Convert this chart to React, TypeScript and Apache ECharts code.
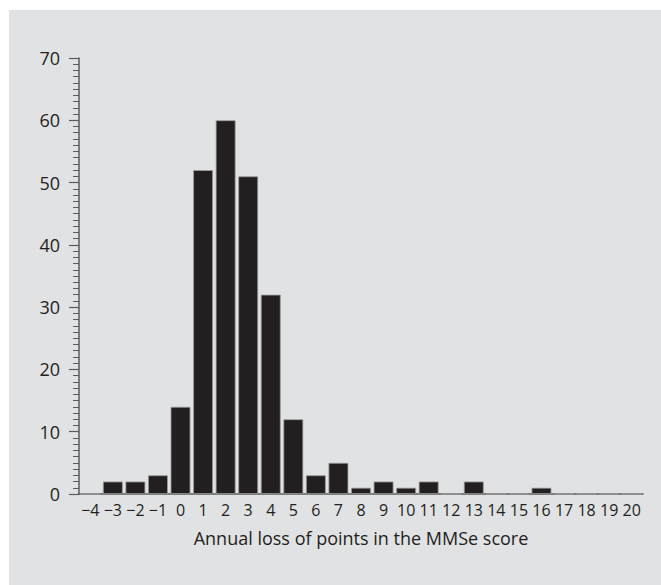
import React, { useEffect, useRef } from "react";
import * as echarts from "echarts";

const categories: number[] = [-4, -3, -2, -1, 0, 1, 2, 3, 4, 5, 6, 7, 8, 9, 10, 11, 12, 13, 14, 15, 16, 17, 18, 19, 20];
const counts: number[] = [0, 2, 2, 3, 14, 52, 60, 51, 32, 12, 3, 5, 1, 2, 1, 2, 0, 2, 0, 0, 1, 0, 0, 0, 0];
const xTitle = "Annual loss of points in the MMSe score";
const yMax = 70;
const yInterval = 10;

const fmt = (v: string | number) => String(v).replace("-", "\u2212");

export default function App() {
  const ref = useRef<HTMLDivElement>(null);
  useEffect(() => {
    if (!ref.current) return;
    const chart = echarts.init(ref.current, null, { renderer: "svg" });
    const textColor = "#231f20";
    const axisColor = "#5a5b5d";
    chart.setOption({
      animation: false,
      backgroundColor: "#ffffff",
      textStyle: { fontFamily: "Open Sans", color: textColor },
      graphic: [
        {
          type: "rect",
          z: -10,
          silent: true,
          shape: { x: 9, y: 10, width: 652, height: 575 },
          style: { fill: "#e1e2e4" },
        },
      ],
      grid: { left: 79, right: 18, top: 58, bottom: 91, containLabel: false },
      xAxis: {
        type: "category",
        data: categories.map(String),
        axisLine: { show: true, lineStyle: { color: axisColor, width: 1.5 } },
        axisTick: { show: false },
        axisLabel: {
          interval: 0,
          margin: 8,
          fontSize: 16,
          color: textColor,
          fontFamily: "Open Sans",
          formatter: (v: string) => fmt(v),
        },
        name: xTitle,
        nameLocation: "middle",
        nameGap: 35,
        nameTextStyle: { fontSize: 18, color: textColor, fontFamily: "Open Sans" },
        splitLine: { show: false },
      },
      yAxis: {
        type: "value",
        min: 0,
        max: yMax,
        interval: yInterval,
        axisLine: { show: true, lineStyle: { color: axisColor, width: 1.5 } },
        axisTick: { show: true, inside: false, length: 10, lineStyle: { color: axisColor, width: 1.2 } },
        minorTick: { show: true, splitNumber: 10, length: 6, lineStyle: { color: axisColor, width: 1 } },
        axisLabel: { margin: 19, fontSize: 18, color: textColor, fontFamily: "Open Sans" },
        splitLine: { show: false },
      },
      series: [
        {
          type: "bar",
          data: counts,
          barCategoryGap: "12%",
          itemStyle: { color: "#231f20", borderColor: "#9c9c9c", borderWidth: 0.8 },
        },
      ],
    });
    return () => chart.dispose();
  }, []);
  return (
    <div
      ref={ref}
      style={{ position: "absolute", left: 0, top: 0, width: 661, height: 585 }}
    />
  );
}
